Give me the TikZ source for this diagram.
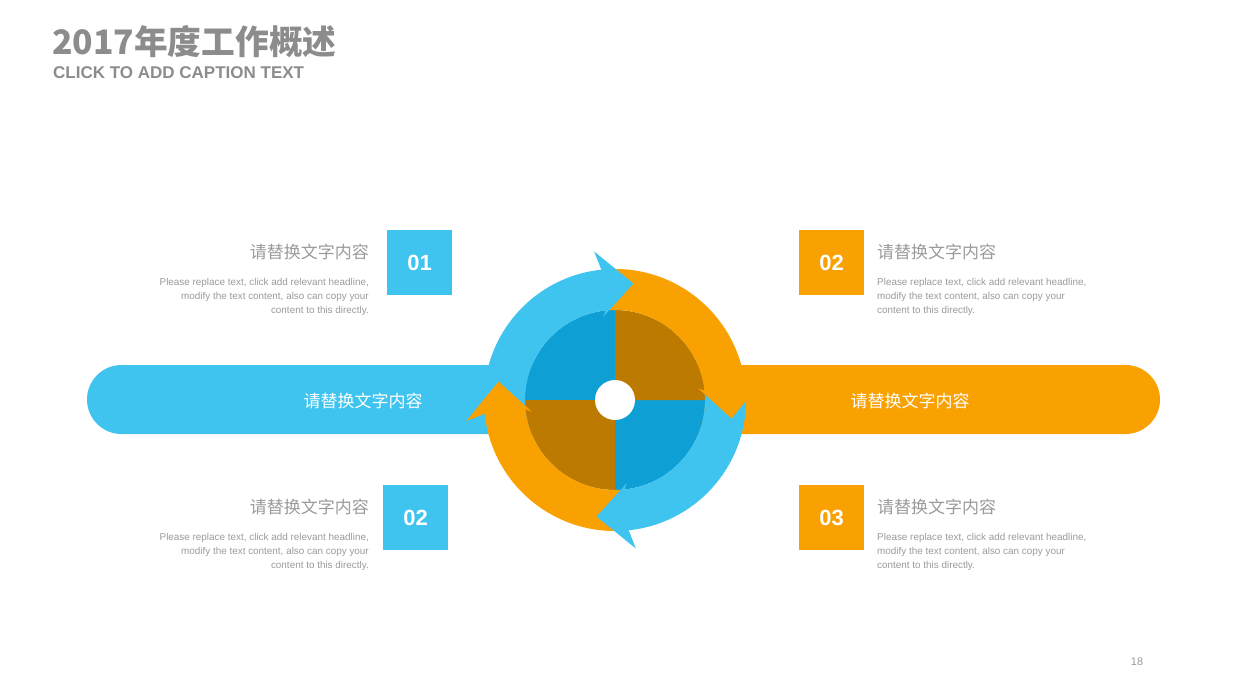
\documentclass[tikz,border=0pt]{standalone}
\usepackage{fontspec}
\setmainfont{Liberation Sans}
\newfontfamily\cjk{Noto Sans CJK SC}
\definecolor{lb}{HTML}{3FC3EF}
\definecolor{og}{HTML}{F9A100}
\definecolor{db}{HTML}{0E9FD5}
\definecolor{br}{HTML}{BD7A00}
\definecolor{tg}{HTML}{8C8C8C}
\definecolor{bg}{HTML}{9A9A9A}
\tikzset{
 numbox/.style={minimum width=65pt,minimum height=65pt,inner sep=0,text=white,font=\fontsize{22}{22}\selectfont\bfseries},
 head/.style={text=bg,font=\cjk\fontsize{17}{17}\selectfont,inner sep=0},
 body/.style={text=bg,font=\fontsize{9.9}{14}\selectfont,inner sep=0},
 bartext/.style={text=white,font=\cjk\fontsize{17}{17}\selectfont},
}
\newcommand{\ringbody}[2]{%
 \fill[#2] (#1+90:131) arc[start angle=#1+90,end angle=#1,radius=131]
  -- (#1:90) arc[start angle=#1,end angle=#1+90,radius=90] -- cycle;}
\newcommand{\ringhead}[2]{%
 \fill[#2] (#1+1:131) -- (#1+3:150) -- (#1-14:118) -- (#1+3:84) -- (#1+1:90) -- cycle;}
\begin{document}
\begin{tikzpicture}[x=1pt,y=-1pt]
\useasboundingbox (0,0) rectangle (1238,692);
\node[anchor=west,text=tg,font=\cjk\fontsize{33.7}{34}\selectfont\bfseries,inner sep=0] (title) at (52,42) {2017年度工作概述};
\node[anchor=west,text=tg,font=\fontsize{17}{17}\selectfont\bfseries,inner sep=0] (cap) at (53,73) {CLICK TO ADD CAPTION TEXT};
% bars
\fill[lb,rounded corners=34.5pt] (87,365) rectangle (640,434);
\fill[og,rounded corners=34.5pt] (590,365) rectangle (1160,434);
\node[bartext] (bl) at (363,401) {请替换文字内容};
\node[bartext] (br) at (910,401) {请替换文字内容};
% ring
\begin{scope}[shift={(615,400)},y=1pt]
\fill[db] (0,0) -- (90,0) arc[start angle=0,end angle=-90,radius=90] -- cycle;
\fill[db] (0,0) -- (-90,0) arc[start angle=180,end angle=90,radius=90] -- cycle;
\fill[br] (0,0) -- (90,0) arc[start angle=0,end angle=90,radius=90] -- cycle;
\fill[br] (0,0) -- (-90,0) arc[start angle=180,end angle=270,radius=90] -- cycle;
\ringbody{95}{lb}
\ringbody{5}{og}
\ringbody{-85}{lb}
\ringbody{-175}{og}
\ringhead{95}{lb}
\ringhead{5}{og}
\ringhead{-85}{lb}
\ringhead{-175}{og}
\fill[white] (0,0) circle (20);
\end{scope}
% boxes
\node[numbox,fill=lb] (n1) at (419.5,262.5) {01};
\node[numbox,fill=og] (n2) at (831.5,262.5) {02};
\node[numbox,fill=lb] (n3) at (415.5,517.5) {02};
\node[numbox,fill=og] (n4) at (831.5,517.5) {03};
% texts
\node[head,anchor=east] (h1) at (369,252) {请替换文字内容};
\node[head,anchor=west] (h2) at (877,252) {请替换文字内容};
\node[head,anchor=east] (h3) at (369,507) {请替换文字内容};
\node[head,anchor=west] (h4) at (877,507) {请替换文字内容};
\node[body,anchor=north east,align=right] (b1) at (369,278) {Please replace text, click add relevant headline,\\modify the text content, also can copy your\\content to this directly.};
\node[body,anchor=north west,align=left] (b2) at (877,278) {Please replace text, click add relevant headline,\\modify the text content, also can copy your\\content to this directly.};
\node[body,anchor=north east,align=right] (b3) at (369,533) {Please replace text, click add relevant headline,\\modify the text content, also can copy your\\content to this directly.};
\node[body,anchor=north west,align=left] (b4) at (877,533) {Please replace text, click add relevant headline,\\modify the text content, also can copy your\\content to this directly.};
\node[text=bg,font=\fontsize{11}{11}\selectfont] (pg) at (1137,662) {18};
\end{tikzpicture}
\end{document}
